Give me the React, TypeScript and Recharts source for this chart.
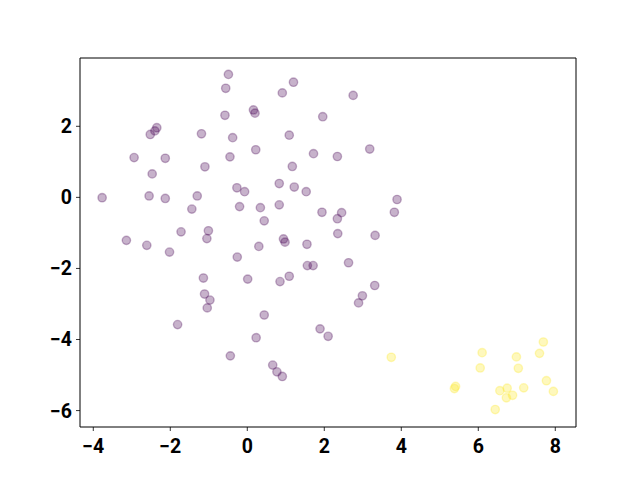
import React from 'react';
import {
    ScatterChart,
    Scatter,
    XAxis,
    YAxis,
    ReferenceArea
} from 'recharts';

// cluster A (purple)
const clusterAX = [
    -3.77, -3.14, -2.94, -2.61, -2.55, -2.52, -2.47, -2.40, -2.35, -2.13,
    -2.13, -2.02, -1.81, -1.72, -1.44, -1.30, -1.19, -1.14, -1.11, -1.10,
    -1.04, -1.01, -1.05, -0.97, -0.58, -0.56, -0.49, -0.45, -0.44, -0.38,
    -0.27, -0.26, -0.20, -0.07, 0.01, 0.16, 0.20, 0.22, 0.23, 0.30,
    0.34, 0.44, 0.44, 0.66, 0.77, 0.91, 0.83, 0.83, 0.94, 0.98,
    0.85, 0.91, 1.09, 1.09, 1.17, 1.20, 1.22, 1.53, 1.55, 1.56,
    1.71, 1.72, 1.89, 1.94, 1.96, 2.10, 2.34, 2.34, 2.45, 2.35,
    2.63, 2.75, 2.89, 2.99, 3.18, 3.32, 3.31, 3.82, 3.89
];
const clusterAY = [
    -0.01, -1.21, 1.12, -1.35, 0.04, 1.77, 0.66, 1.87, 1.96, 1.10,
    -0.03, -1.54, -3.58, -0.97, -0.33, 0.04, 1.79, -2.27, -2.72, 0.86,
    -3.11, -0.94, -1.16, -2.89, 2.31, 3.07, 3.46, 1.14, -4.46, 1.68,
    0.27, -1.68, -0.26, 0.16, -2.30, 2.46, 2.37, 1.34, -3.95, -1.38,
    -0.29, -0.66, -3.31, -4.72, -4.91, -5.04, 0.39, -0.21, -1.17, -1.26,
    -2.37, 2.94, 1.75, -2.22, 0.87, 3.24, 0.29, 0.16, -1.32, -1.92,
    -1.92, 1.23, -3.70, -0.42, 2.27, -3.91, 1.15, -0.60, -0.43, -1.02,
    -1.84, 2.87, -2.97, -2.77, 1.36, -1.07, -2.48, -0.42, -0.06
];

// cluster B (yellow)
const clusterBX = [
    3.74, 6.10, 6.05, 6.99, 7.04, 7.69, 7.59, 7.77, 7.95, 7.18,
    5.41, 5.38, 6.56, 6.75, 6.73, 6.89, 6.44
];
const clusterBY = [
    -4.50, -4.37, -4.80, -4.49, -4.81, -4.07, -4.39, -5.16, -5.46, -5.36,
    -5.32, -5.38, -5.44, -5.37, -5.64, -5.57, -5.97
];

const xTicks = [-4, -2, 0, 2, 4, 6, 8];
const yTicks = [-6, -4, -2, 0, 2];
const xDomain = [-4.345, 8.538];
const yDomain = [-6.462, 3.922];

const dataA = clusterAX.map((x, i) => ({ x, y: clusterAY[i] }));
const dataB = clusterBX.map((x, i) => ({ x, y: clusterBY[i] }));

const fmt = (v: number) => String(v).replace('-', '\u2212');

const tickStyle = {
    fill: '#000',
    fontSize: 19.5,
    fontWeight: 'bold',
    fontFamily: 'Roboto, sans-serif'
};

const dot = (color: string) => (props: any) => (
    <circle
        cx={props.cx}
        cy={props.cy}
        r={4.17}
        fill={color}
        fillOpacity={0.3}
        stroke={color}
        strokeOpacity={0.3}
        strokeWidth={1.39}
    />
);

const App: React.FC = () => {
    return (
        <div style={{ position: 'absolute', left: 0, top: 0, background: '#fff' }}>
            <ScatterChart
                width={640}
                height={480}
                margin={{ top: 58, right: 64, left: 0, bottom: 0 }}
            >
                <XAxis
                    type="number"
                    dataKey="x"
                    domain={xDomain}
                    ticks={xTicks}
                    allowDataOverflow
                    height={53}
                    axisLine={false}
                    tickSize={4}
                    tickMargin={8}
                    tickLine={{ stroke: '#000', strokeWidth: 0.8 }}
                    tickFormatter={fmt}
                    tick={tickStyle}
                />
                <YAxis
                    type="number"
                    dataKey="y"
                    domain={yDomain}
                    ticks={yTicks}
                    allowDataOverflow
                    width={80}
                    axisLine={false}
                    tickSize={4}
                    tickMargin={4}
                    tickLine={{ stroke: '#000', strokeWidth: 0.8 }}
                    tickFormatter={fmt}
                    tick={tickStyle}
                />
                <ReferenceArea
                    x1={xDomain[0]}
                    x2={xDomain[1]}
                    y1={yDomain[0]}
                    y2={yDomain[1]}
                    fill="none"
                    stroke="#000"
                    strokeWidth={1}
                    ifOverflow="visible"
                />
                <Scatter data={dataA} shape={dot('#440154')} isAnimationActive={false} />
                <Scatter data={dataB} shape={dot('#fde725')} isAnimationActive={false} />
            </ScatterChart>
        </div>
    );
};

export default App;
